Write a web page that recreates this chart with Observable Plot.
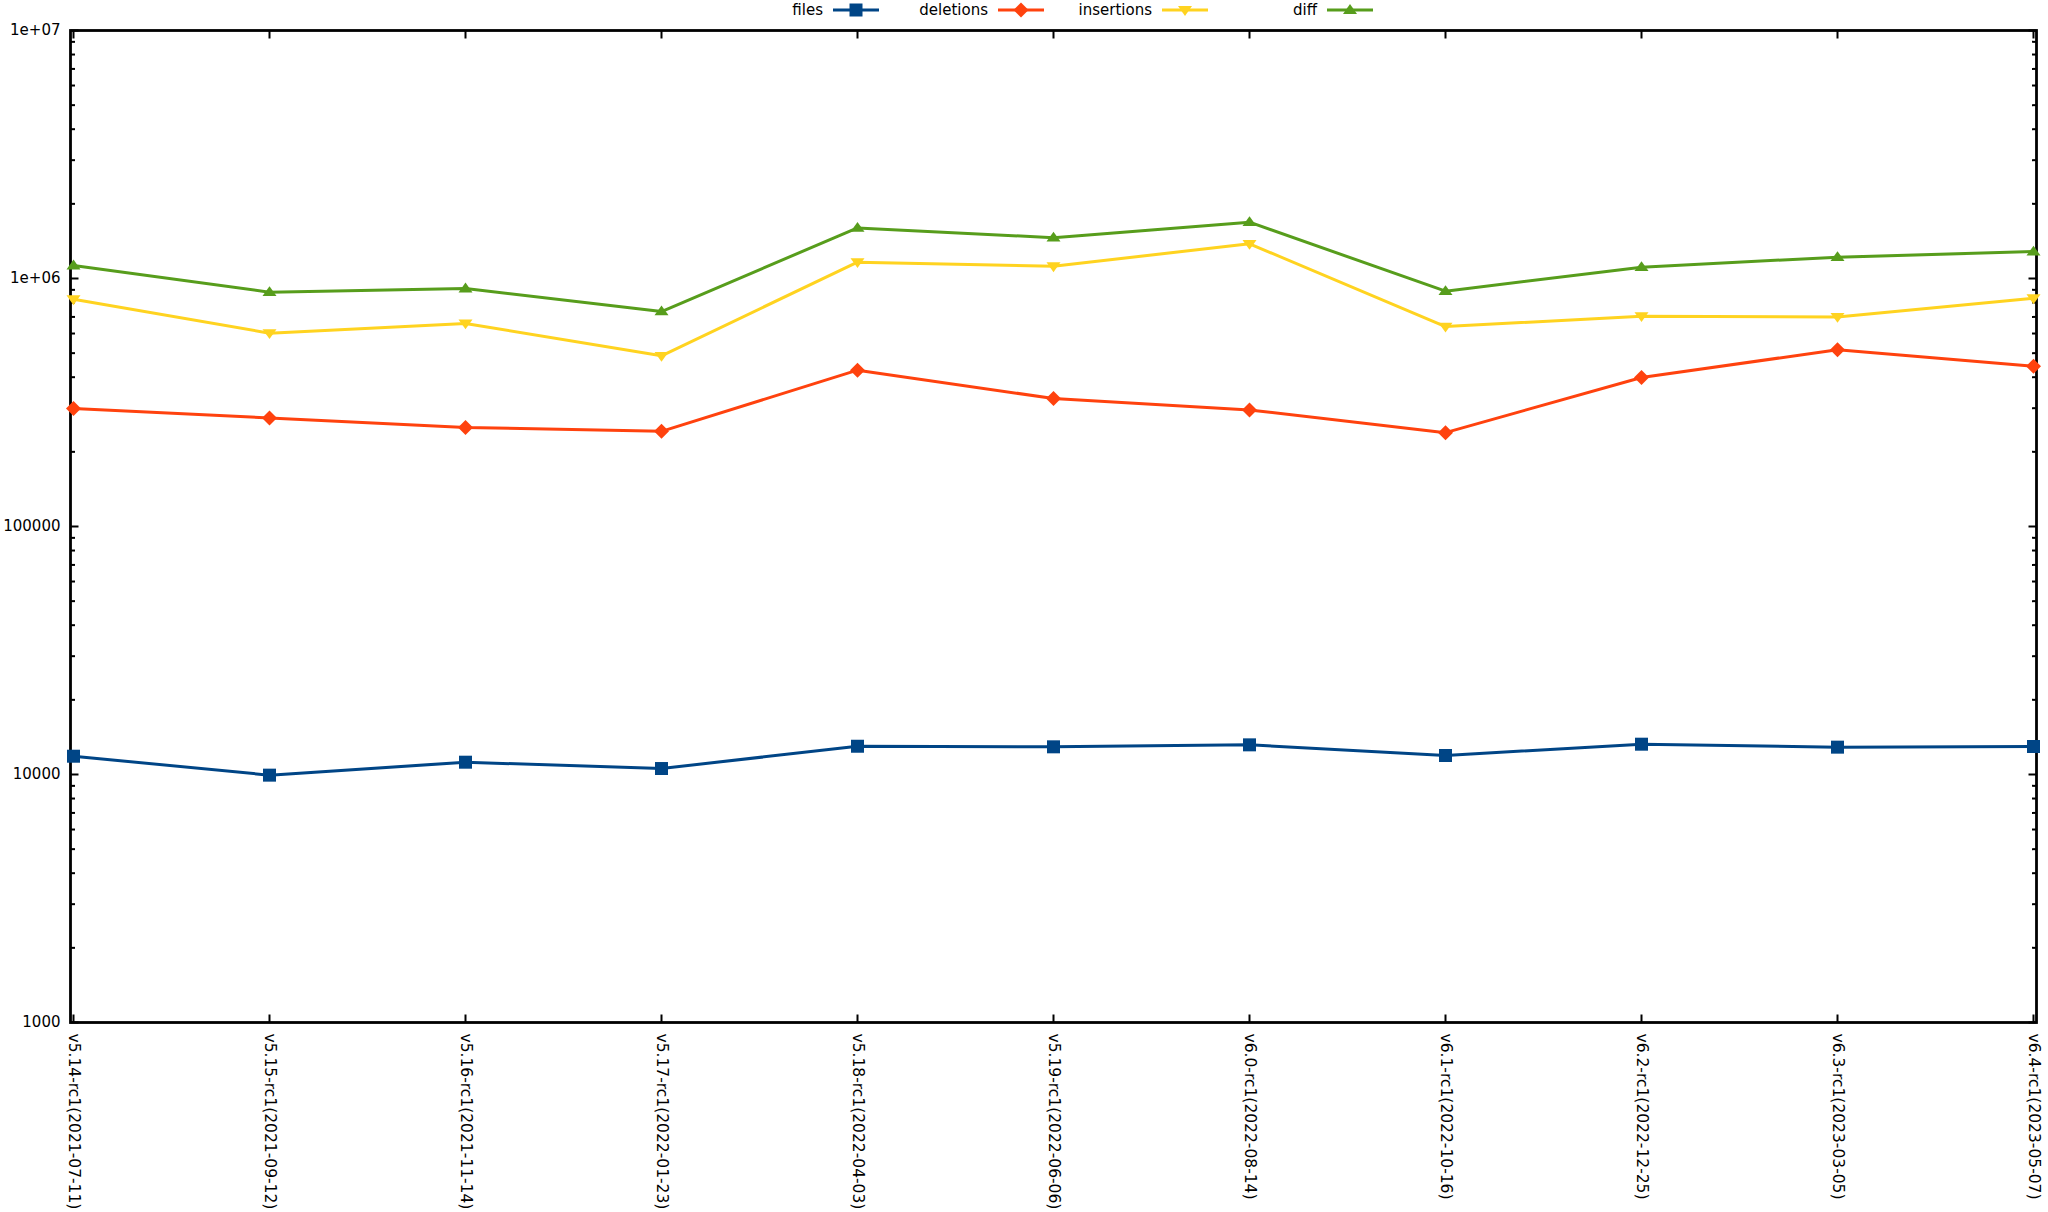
<!DOCTYPE html>
<html>
<head>
<meta charset="utf-8">
<script src="https://cdn.jsdelivr.net/npm/d3@7"></script>
<script src="https://cdn.jsdelivr.net/npm/@observablehq/plot@0.6"></script>
<style>
  html, body { margin: 0; padding: 0; background: #fff; }
  #wrap { position: relative; width: 2048px; height: 1212px; font-family: "DejaVu Sans", sans-serif; }
  #legend { position: absolute; left: 0; top: 0; width: 2048px; height: 24px; }
  .lg-text { position: absolute; top: 0; width: 150px; text-align: right; font-size: 15px; line-height: 21px; color: #000; }
  .lg-svg { position: absolute; top: 0; }
</style>
</head>
<body>
<div id="wrap"><div id="chart"></div><div id="legend"></div></div>
<script>
// ---- data ----
const releases = [
  "v5.14-rc1(2021-07-11)", "v5.15-rc1(2021-09-12)", "v5.16-rc1(2021-11-14)",
  "v5.17-rc1(2022-01-23)", "v5.18-rc1(2022-04-03)", "v5.19-rc1(2022-06-06)",
  "v6.0-rc1(2022-08-14)", "v6.1-rc1(2022-10-16)", "v6.2-rc1(2022-12-25)",
  "v6.3-rc1(2023-03-05)", "v6.4-rc1(2023-05-07)"
];
const files      = [11850, 9940, 11210, 10570, 13000, 12930, 13170, 11930, 13250, 12890, 12970];
const deletions  = [299000, 274000, 251000, 242000, 427000, 328000, 295000, 239000, 399000, 516000, 443000];
const insertions = [825000, 602000, 659000, 488000, 1164000, 1121000, 1380000, 640000, 705000, 700000, 833000];
const diff       = [1128000, 881000, 911000, 736000, 1600000, 1460000, 1687000, 889000, 1111000, 1219000, 1284000];

const seriesNames  = ["files", "deletions", "insertions", "diff"];
const seriesColors = ["#004586", "#ff420e", "#ffd320", "#579d1c"];
const yTickValues  = [1000, 10000, 100000, 1000000, 10000000];
const yTickLabels  = ["1000", "10000", "100000", "1e+06", "1e+07"];

// ---- symbols ----
const sq = {draw(c, s) { const r = Math.sqrt(s / Math.PI); c.rect(-r, -r, 2 * r, 2 * r); }};
const dia = {draw(c, s) { const r = Math.sqrt(s / Math.PI); c.moveTo(0, -r); c.lineTo(r, 0); c.lineTo(0, r); c.lineTo(-r, 0); c.closePath(); }};
const triUp = {draw(c, s) { const r = Math.sqrt(s / Math.PI); c.moveTo(0, -r * 0.85); c.lineTo(r, r * 0.55); c.lineTo(-r, r * 0.55); c.closePath(); }};
const triDown = {draw(c, s) { const r = Math.sqrt(s / Math.PI); c.moveTo(0, r * 0.85); c.lineTo(r, -r * 0.55); c.lineTo(-r, -r * 0.55); c.closePath(); }};
const symbols = [sq, dia, triDown, triUp];
const symR = [6.5, 7.5, 7, 7];

const tickRight = {draw(c, s) { const r = Math.sqrt(s / Math.PI); c.moveTo(0, 0); c.lineTo(r, 0); }};
const tickLeft  = {draw(c, s) { const r = Math.sqrt(s / Math.PI); c.moveTo(0, 0); c.lineTo(-r, 0); }};
const tickDown  = {draw(c, s) { const r = Math.sqrt(s / Math.PI); c.moveTo(0, 0); c.lineTo(0, r); }};
const tickUp    = {draw(c, s) { const r = Math.sqrt(s / Math.PI); c.moveTo(0, 0); c.lineTo(0, -r); }};

const minorTicks = [];
for (let d = 1000; d < 1e7; d *= 10) for (let k = 2; k <= 9; k++) minorTicks.push(k * d);

const seriesValues = [files, deletions, insertions, diff];
const tables = seriesValues.map(vals => releases.map((r, i) => ({release: r, value: vals[i]})));

const marks = [
  Plot.frame({stroke: "#000", strokeWidth: 2.8}),
  Plot.dot(yTickValues, {y: d => d, frameAnchor: "left", symbol: tickRight, r: 8, stroke: "#000", strokeWidth: 2, fill: "none"}),
  Plot.dot(yTickValues, {y: d => d, frameAnchor: "right", symbol: tickLeft, r: 8, stroke: "#000", strokeWidth: 2, fill: "none"}),
  Plot.dot(minorTicks, {y: d => d, frameAnchor: "left", symbol: tickRight, r: 4.5, stroke: "#000", strokeWidth: 2, fill: "none"}),
  Plot.dot(minorTicks, {y: d => d, frameAnchor: "right", symbol: tickLeft, r: 4.5, stroke: "#000", strokeWidth: 2, fill: "none"}),
  Plot.dot(releases, {x: d => d, frameAnchor: "top", symbol: tickDown, r: 8, stroke: "#000", strokeWidth: 2, fill: "none"}),
  Plot.dot(releases, {x: d => d, frameAnchor: "bottom", symbol: tickUp, r: 8, stroke: "#000", strokeWidth: 2, fill: "none"}),
  Plot.text(yTickValues, {y: d => d, text: (d, i) => yTickLabels[i], frameAnchor: "left", dx: -10, textAnchor: "end", fontSize: 15, fill: "#000"}),
  Plot.text(releases, {x: d => d, text: d => d, frameAnchor: "bottom", dy: 11, rotate: 90, textAnchor: "start", lineAnchor: "middle", fontSize: 15.5, fill: "#000"})
];
tables.forEach((t, k) => {
  marks.push(Plot.line(t, {x: "release", y: "value", stroke: seriesColors[k], strokeWidth: 3}));
});
tables.forEach((t, k) => {
  marks.push(Plot.dot(t, {x: "release", y: "value", symbol: symbols[k], r: symR[k], fill: seriesColors[k], stroke: "none"}));
});

const chart = Plot.plot({
  width: 2048,
  height: 1212,
  marginLeft: 70,
  marginRight: 12,
  marginTop: 30,
  marginBottom: 190,
  style: {fontFamily: "DejaVu Sans", fontSize: "15px", background: "white", overflow: "visible"},
  x: {type: "point", domain: releases, padding: 0, axis: null},
  y: {type: "log", domain: [1000, 1e7], axis: null},
  marks
});
document.getElementById("chart").appendChild(chart);

// ---- legend ----
const legend = document.getElementById("legend");
const textEnds = [823, 988, 1152, 1317];
const symPaths = [
  "M-6.5,-6.5h13v13h-13z",
  "M0,-7.5L7.5,0L0,7.5L-7.5,0z",
  "M0,6L7,-3.9L-7,-3.9z",
  "M0,-6L7,3.9L-7,3.9z"
];
seriesNames.forEach((name, k) => {
  const t = document.createElement("div");
  t.className = "lg-text";
  t.style.left = (textEnds[k] - 150) + "px";
  t.textContent = name;
  legend.appendChild(t);
  const s = document.createElementNS("http://www.w3.org/2000/svg", "svg");
  s.setAttribute("class", "lg-svg");
  s.setAttribute("width", 48);
  s.setAttribute("height", 22);
  s.style.left = (textEnds[k] + 10) + "px";
  s.innerHTML = `<line x1="0" x2="46" y1="10" y2="10" stroke="${seriesColors[k]}" stroke-width="3"/>` +
    `<path transform="translate(23,10)" d="${symPaths[k]}" fill="${seriesColors[k]}"/>`;
  legend.appendChild(s);
});
</script>
</body>
</html>
